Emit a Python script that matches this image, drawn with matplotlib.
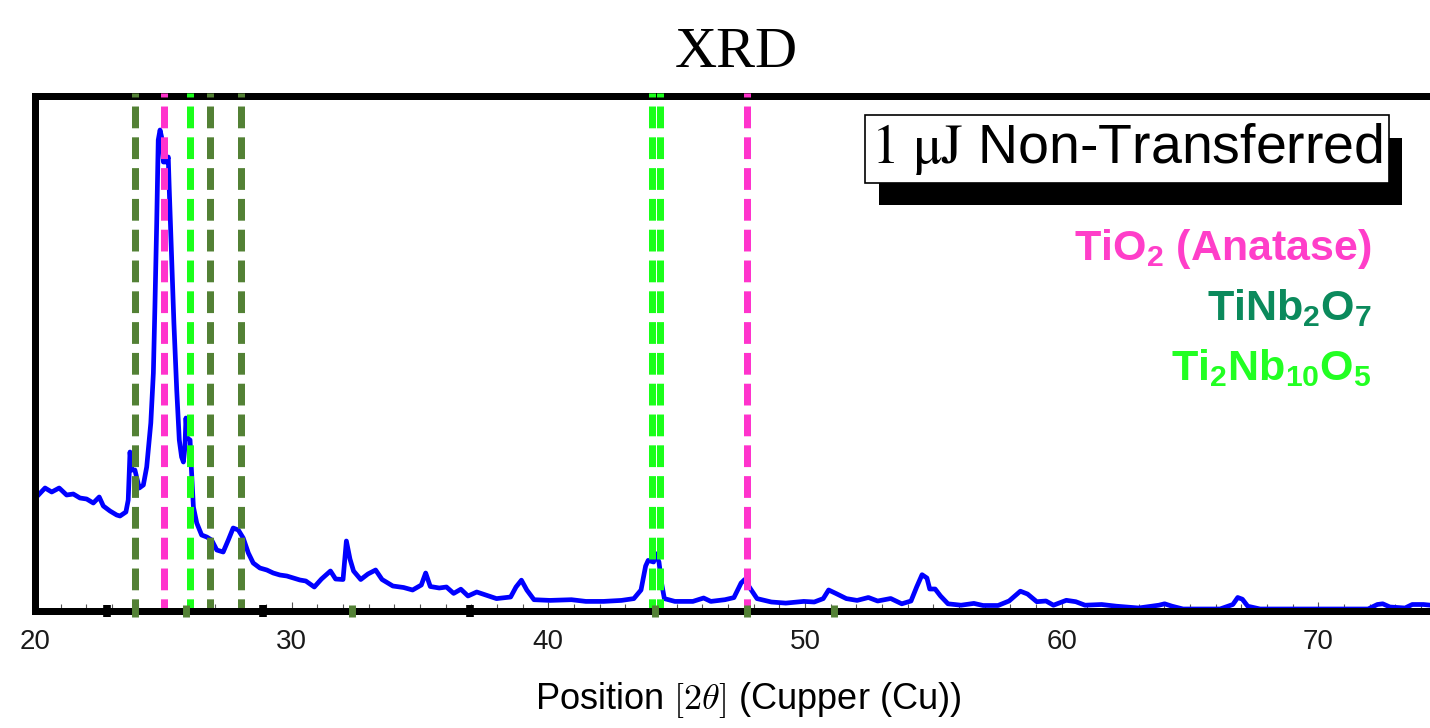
import matplotlib.pyplot as plt
from matplotlib import patheffects

plt.rcParams['mathtext.fontset'] = 'custom'
plt.rcParams['mathtext.rm'] = 'Liberation Sans:bold'
plt.rcParams['mathtext.it'] = 'Liberation Sans:bold'
plt.rcParams['mathtext.bf'] = 'Liberation Sans:bold'

# measured pattern (arbitrary intensity units)
two_theta = [20.13, 20.39, 20.65, 20.94, 21.23, 21.49, 21.75, 22.01, 22.27, 22.50,
             22.66, 22.92, 23.18, 23.31, 23.54, 23.63, 23.70, 23.77, 23.89, 24.06,
             24.22, 24.35, 24.51, 24.61, 24.67, 24.74, 24.80, 24.87, 24.93, 25.00,
             25.13, 25.19, 25.23, 25.32, 25.41, 25.52, 25.62, 25.71, 25.78, 25.84,
             25.88, 25.93, 26.04, 26.10, 26.17, 26.30, 26.49, 26.69, 26.88, 27.08,
             27.33, 27.53, 27.72, 27.92, 28.11, 28.31, 28.50, 28.76, 29.03, 29.28,
             29.54, 29.81, 30.06, 30.32, 30.55, 30.88, 31.16, 31.51, 31.71, 32.00,
             32.13, 32.27, 32.41, 32.69, 32.97, 33.27, 33.52, 33.94, 34.36, 34.71,
             35.05, 35.22, 35.40, 35.75, 36.03, 36.31, 36.59, 36.87, 37.21, 37.56,
             37.98, 38.53, 38.74, 38.95, 39.16, 39.44, 40.06, 40.90, 41.46, 42.15,
             42.85, 43.33, 43.61, 43.79, 43.89, 44.10, 44.17, 44.31, 44.41, 44.52,
             44.93, 45.63, 46.05, 46.33, 46.88, 47.23, 47.51, 47.65, 47.86, 48.13,
             48.69, 49.25, 49.95, 50.36, 50.71, 50.92, 51.20, 51.61, 52.03, 52.47,
             52.83, 53.34, 53.77, 54.13, 54.35, 54.56, 54.75, 54.86, 55.07, 55.28,
             55.57, 56.08, 56.58, 56.94, 57.52, 57.95, 58.39, 58.67, 59.03, 59.39,
             59.68, 60.18, 60.55, 60.91, 61.56, 62.13, 63.00, 63.79, 64.01, 64.30,
             64.73, 66.17, 66.67, 66.86, 67.04, 67.25, 67.73, 71.94, 72.30, 72.51,
             72.79, 73.38, 73.66, 74.10, 74.35, 75.00]
intensity = [116, 123, 119, 123, 116, 117, 113, 112, 108, 114,
             105, 100, 96, 95, 99, 111, 159, 141, 141, 123,
             126, 144, 188, 238, 304, 388, 471, 481, 474, 449,
             449, 454, 421, 354, 288, 221, 171, 154, 149, 164,
             193, 173, 171, 138, 104, 88, 76, 74, 71, 61,
             59, 71, 83, 81, 73, 58, 48, 43, 41, 38,
             36, 35, 33, 31, 30, 24, 32, 40, 32, 31.5,
             70, 52, 40, 31.5, 37, 41, 31.5, 25, 23.5, 21,
             26, 38, 24.5, 23, 24, 17.6, 21.8, 15, 19, 16,
             12.4, 14, 24, 30.8, 21, 11.3, 10.6, 11.3, 9.6, 9.6,
             10.6, 12.4, 21, 45, 50.6, 49, 57.5, 49, 28, 12.4,
             9.6, 9.6, 13, 9.6, 11.3, 13.4, 28, 31.5, 22.8, 12.4,
             9, 7.9, 9.6, 9, 12.4, 21, 17.6, 12.4, 10.6, 13.5,
             10, 12.5, 7.2, 10, 24, 36.3, 33, 22, 22, 15,
             7.2, 5.8, 7.6, 5.5, 5.5, 10, 19.8, 17, 9.3, 10,
             5.8, 10.7, 9.3, 5.8, 6.5, 4.8, 3, 5.8, 7.2, 4.8,
             2, 2, 6.5, 13.5, 11.8, 4.8, 2, 2, 6.5, 7.2,
             4, 3, 6.5, 6.5, 5.8, 5]

anatase_pos = [25.04, 47.75]
tinb2o7_pos = [23.91, 26.83, 28.01]
ti2nb10o5_pos = [26.05, 44.03, 44.35]
marks_black = [22.82, 28.89, 36.95]
marks_olive = [23.89, 25.88, 32.35, 44.16, 47.75, 51.13]

blue = '#0000ff'
pink = '#ff33cc'
olive = '#538135'
lime = '#1aff1a'

fig = plt.figure(figsize=(14.3, 7.28), dpi=100)
ax = fig.add_axes([0.02451, 0.16071, 0.98713, 0.7081])

ax.plot(two_theta, intensity, color=blue, lw=3.4, zorder=2)

ymax = 515.5
ls = (2.54, (3.11, 1.29))
for xs, c in [(tinb2o7_pos, olive), (anatase_pos, pink), (ti2nb10o5_pos, lime)]:
    for x in xs:
        ax.plot([x, x], [518, 0], color=c, lw=5.04, linestyle=ls,
                clip_on=False, zorder=3, solid_capstyle='butt', dash_capstyle='butt')

ax.plot(marks_black, [0] * len(marks_black), ls='none', marker='|', ms=8.6, mew=5.5,
        color='black', clip_on=False, zorder=5)
ax.plot(marks_olive, [0] * len(marks_olive), ls='none', marker='|', ms=8.6, mew=5.0,
        color=olive, clip_on=False, zorder=5)

ax.set_xlim(20, 75)
ax.set_ylim(0, ymax)
for s in ['left', 'top', 'bottom', 'right']:
    ax.spines[s].set_linewidth(5.04)
ax.spines['bottom'].set_zorder(4)

ax.set_xticks([20, 30, 40, 50, 60, 70])
ax.set_xticks(range(20, 76), minor=True)
ax.tick_params(axis='x', which='both', direction='in', color='#555555', width=0.8,
               top=False, labelsize=20, pad=13)
ax.tick_params(axis='x', which='major', length=6.2)
ax.tick_params(axis='x', which='minor', length=5.2)
ax.tick_params(axis='y', left=False, labelleft=False)
for lab in ax.get_xticklabels():
    lab.set_fontfamily('Liberation Sans')
    lab.set_color('#1a1a1a')

fig.text(736 / 1430, 1 - 66.7 / 728, 'XRD', family='Liberation Serif', fontsize=42,
         ha='center', va='baseline')
fig.text(748 / 1430, 1 - 700 / 728, r'Position $[2\theta]$ (Cupper (Cu))',
         family='Liberation Sans', fontsize=26, ha='center', va='center',
         math_fontfamily='cm')

box = fig.text(1127 / 1430, 1 - 149 / 728, r'$\mathrm{1\ μJ}$ Non-Transferred',
               family='Liberation Sans', fontsize=40, ha='center', va='center',
               math_fontfamily='stix',
               bbox=dict(boxstyle='square,pad=0.1', fc='white', ec='black', lw=1.2))
box.get_bbox_patch().set_path_effects([
    patheffects.SimplePatchShadow(offset=(9.5, -16), shadow_rgbFace='black', alpha=1.0),
    patheffects.Normal()])

labels = ['TiO$_2$ (Anatase)', 'TiNb$_2$O$_7$', 'Ti$_2$Nb$_{10}$O$_5$']
label_colors = ['#ff3ec9', '#0b8a5c', '#22ff22']
for i, (t, c) in enumerate(zip(labels, label_colors)):
    fig.text(1372 / 1430, 1 - (260 + 60 * i) / 728, t, family='Liberation Sans',
             fontweight='bold', fontsize=31, color=c, ha='right', va='baseline',
             math_fontfamily='custom')

fig.savefig('out.png', dpi=100)
